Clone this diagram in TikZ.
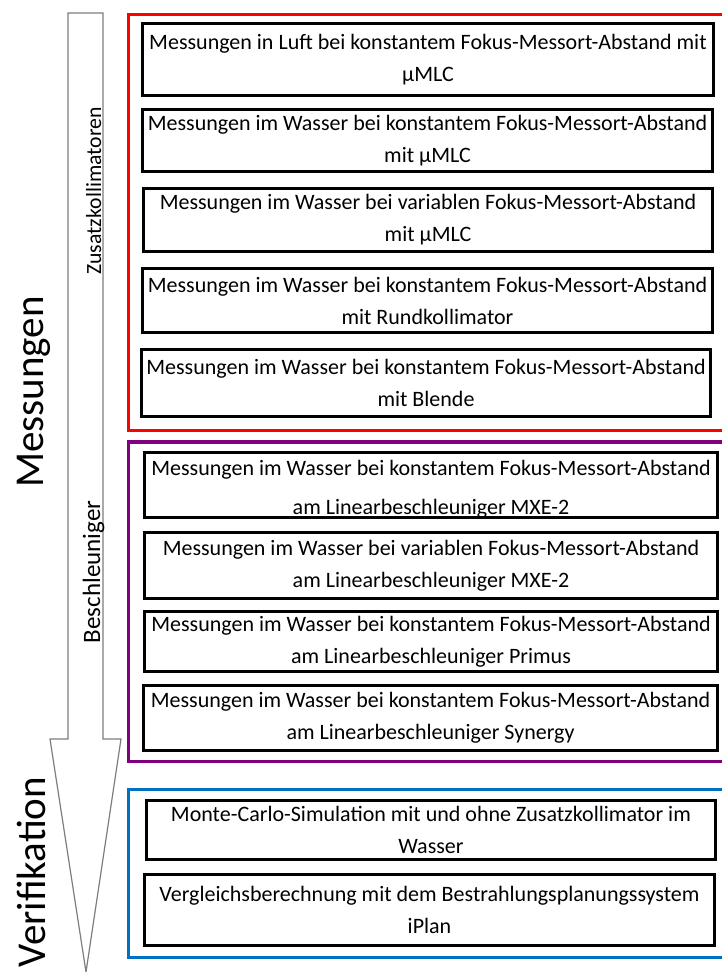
\documentclass[tikz,border=0pt]{standalone}
\usepackage{fontspec}
\setmainfont{Carlito}
\definecolor{framered}{RGB}{255,0,0}
\definecolor{framepurple}{RGB}{128,0,128}
\definecolor{frameblue}{RGB}{0,112,192}
\definecolor{arrowgray}{RGB}{125,125,125}
\tikzset{
  box/.style={draw=black, line width=3pt, fill=white, inner sep=0pt, align=center,
    font=\fontsize{22}{32}\selectfont},
  grp/.style={line width=3.5pt},
  shaftlabel/.style={rotate=90, anchor=base, inner sep=0pt},
  biglabel/.style={rotate=90, anchor=base, inner sep=0pt, font=\fontsize{41}{48}\selectfont},
  arrowshape/.style={draw=arrowgray, line width=1.2pt, fill=white, line join=miter}
}
\begin{document}
\begin{tikzpicture}[x=1pt, y=-1pt]
\useasboundingbox (0,0) rectangle (721,972);
% big arrow
\draw[arrowshape] (68,13) -- (103,13) -- (103,739) -- (121,739) -- (86,972) -- (50,739) -- (68,739) -- cycle;
\node[shaftlabel, font=\fontsize{21.7}{26}\selectfont] (lzk) at (101,191) {Zusatzkollimatoren};
\node[shaftlabel, font=\fontsize{25}{30}\selectfont] (lbs) at (100,572) {Beschleuniger};
\node[biglabel] (lmess) at (43,392) {Messungen};
\node[biglabel] (lveri) at (45,872) {Verifikation};
% group frames
\draw[grp, draw=framered] (128.5,14.5) rectangle (726,430.5);
\draw[grp, draw=framepurple] (128.5,442) rectangle (726,761.5);
\draw[grp, draw=frameblue] (128.5,789.5) rectangle (726,957.5);
% boxes
\node[box, minimum width=571pt, minimum height=72pt] (b1) at (428,59.5)
  {Messungen in Luft bei konstantem Fokus-Messort-Abstand mit\\µMLC};
\node[box, minimum width=570pt, minimum height=62pt] (b2) at (427.5,140.5)
  {Messungen im Wasser bei konstantem Fokus-Messort-Abstand\\mit µMLC};
\node[box, minimum width=569pt, minimum height=63pt] (b3) at (428,220)
  {Messungen im Wasser bei variablen Fokus-Messort-Abstand\\mit µMLC};
\node[box, minimum width=570pt, minimum height=64pt] (b4) at (427.5,300.5)
  {Messungen im Wasser bei konstantem Fokus-Messort-Abstand\\mit Rundkollimator};
\node[box, minimum width=569pt, minimum height=67pt] (b5) at (426,383)
  {Messungen im Wasser bei konstantem Fokus-Messort-Abstand\\mit Blende};
\node[box, minimum width=573pt, minimum height=65pt] (b6) at (431,485)
  {\rule{0pt}{23pt}Messungen im Wasser bei konstantem Fokus-Messort-Abstand\\[7pt]am Linearbeschleuniger MXE-2};
\node[box, minimum width=573pt, minimum height=66pt] (b7) at (431,565.5)
  {Messungen im Wasser bei variablen Fokus-Messort-Abstand\\am Linearbeschleuniger MXE-2};
\node[box, minimum width=573pt, minimum height=60pt] (b8) at (431,641.5)
  {Messungen im Wasser bei konstantem Fokus-Messort-Abstand\\am Linearbeschleuniger Primus};
\node[box, minimum width=574pt, minimum height=65pt] (b9) at (430.5,718)
  {Messungen im Wasser bei konstantem Fokus-Messort-Abstand\\am Linearbeschleuniger Synergy};
\node[box, minimum width=569pt, minimum height=59pt] (b10) at (431,830)
  {Monte-Carlo-Simulation mit und ohne Zusatzkollimator im\\Wasser};
\node[box, minimum width=570pt, minimum height=71pt] (b11) at (429.5,910)
  {Vergleichsberechnung mit dem Bestrahlungsplanungssystem\\iPlan};
\end{tikzpicture}
\end{document}
